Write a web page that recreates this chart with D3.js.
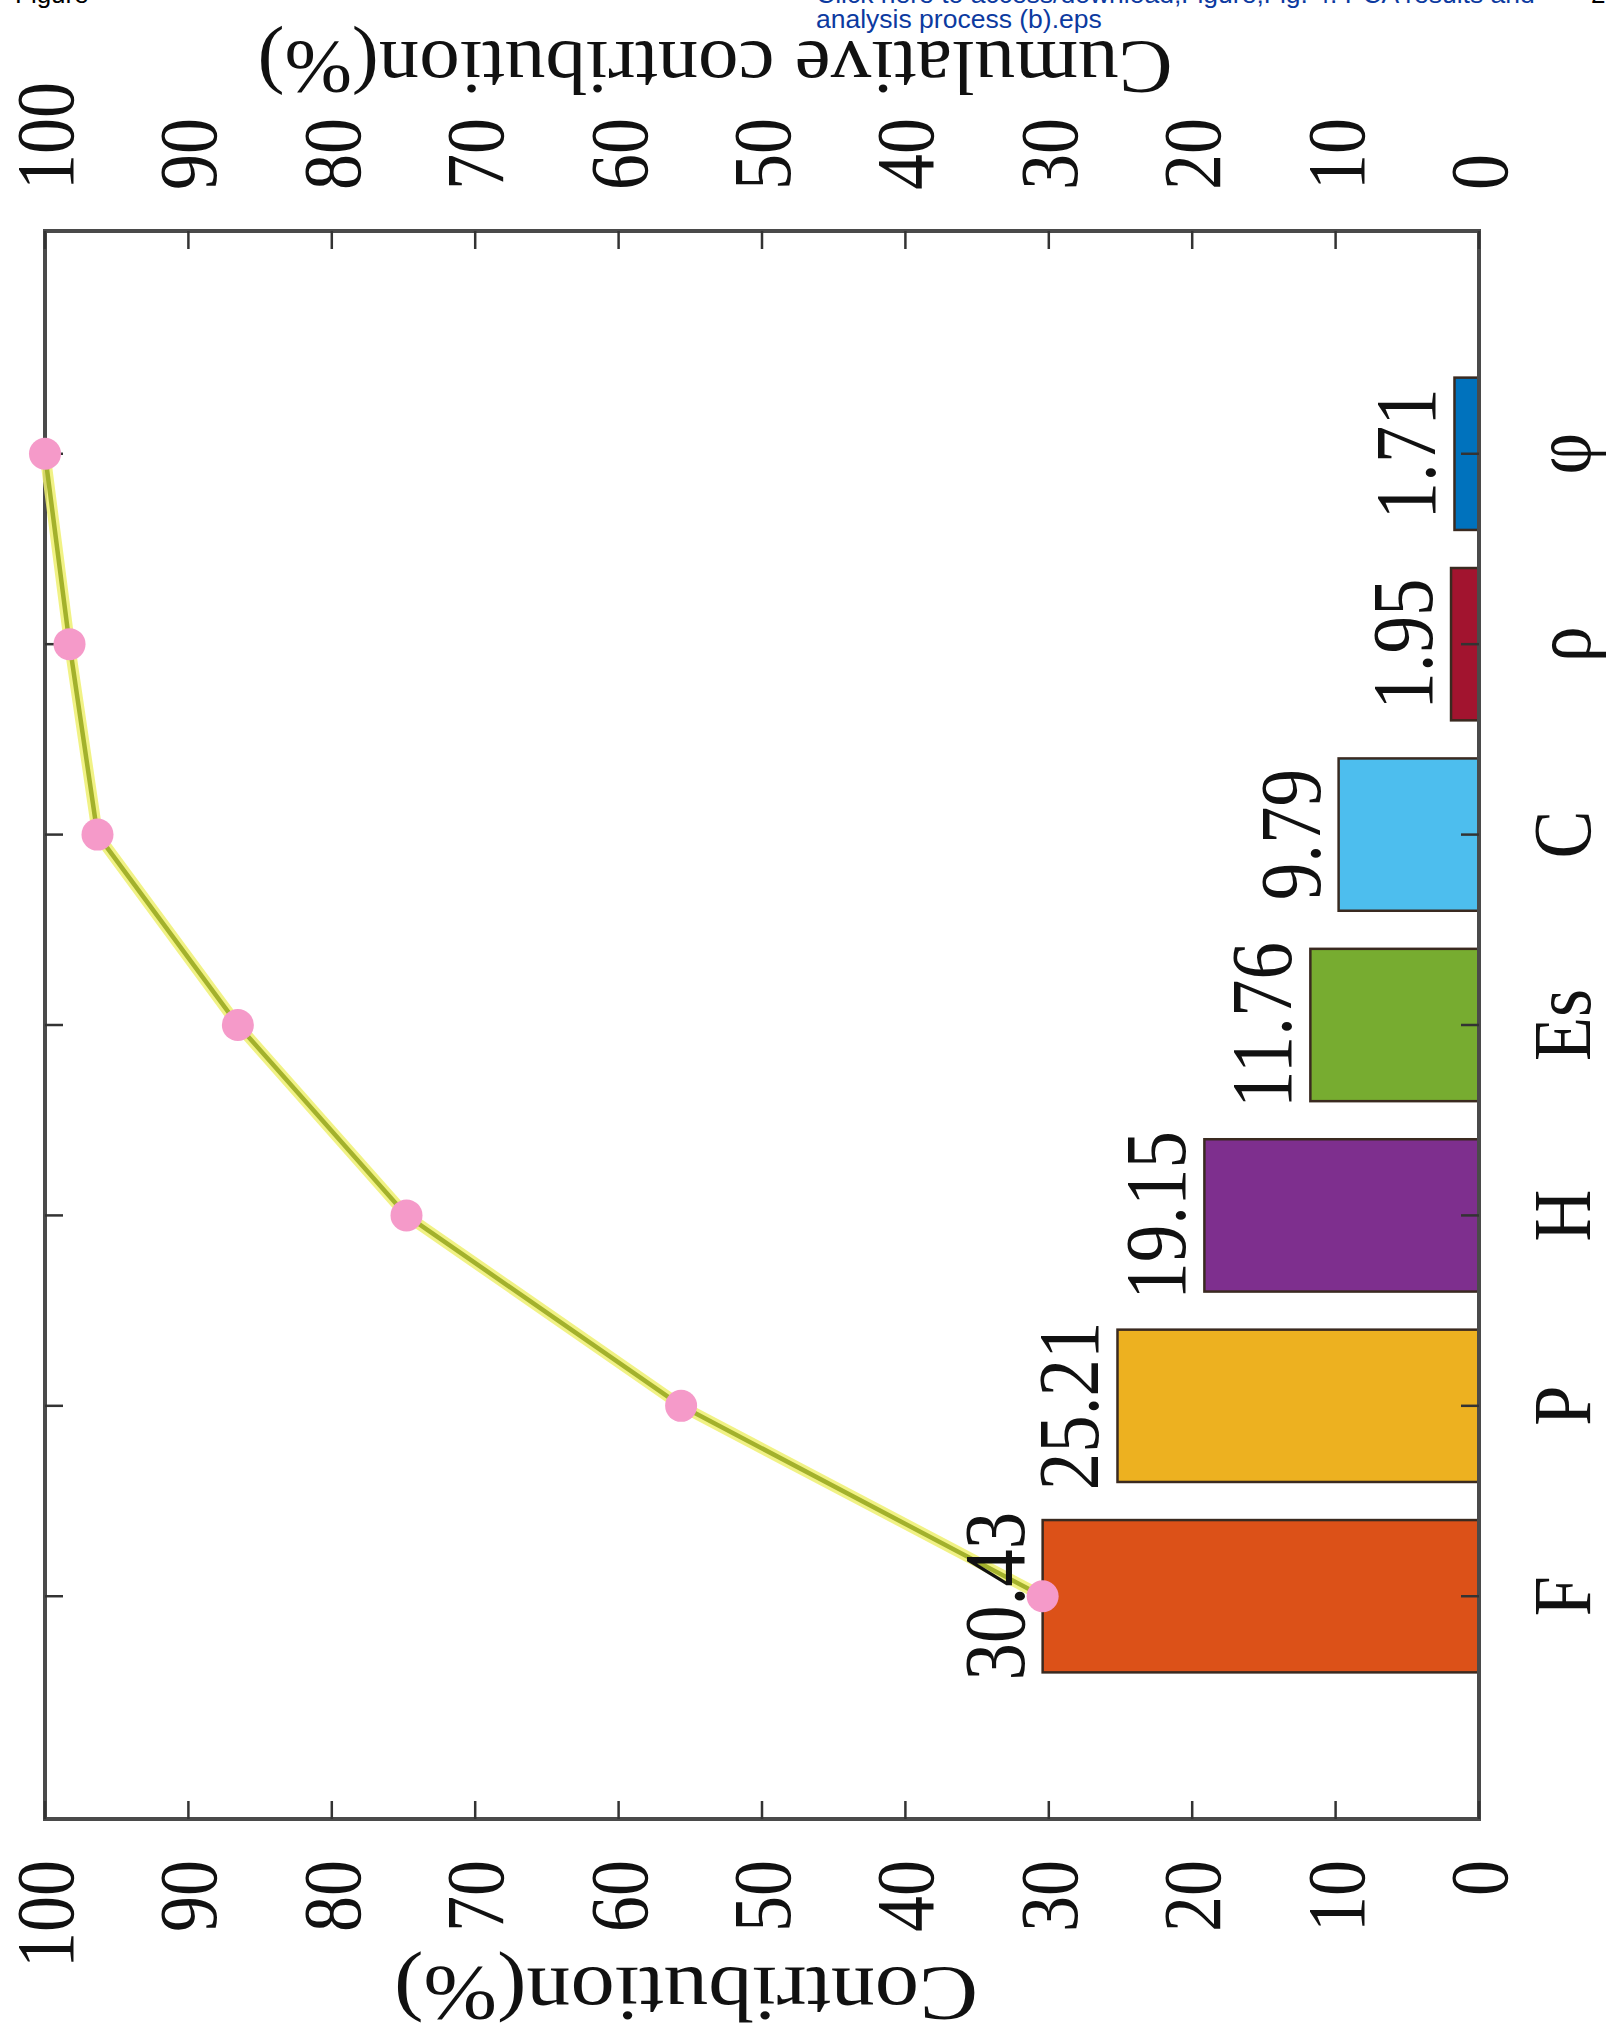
<!DOCTYPE html>
<html>
<head>
<meta charset="utf-8">
<script src="https://cdn.jsdelivr.net/npm/d3@7"></script>
<style>
  html, body { margin: 0; padding: 0; background: #ffffff; }
  svg { display: block; }
</style>
</head>
<body>
<script>
// ---------------- data ----------------
const categories   = ["F", "P", "H", "Es", "C", "ρ", "φ"];
const contribution = [30.43, 25.21, 19.15, 11.76, 9.79, 1.95, 1.71];
const cumulative   = [30.43, 55.64, 74.79, 86.55, 96.34, 98.29, 100];
const barLabels    = ["30.43", "25.21", "19.15", "11.76", "9.79", "1.95", "1.71"];
const barColors    = ["#DC5118", "#EDB120", "#7E2F8E", "#77AC30", "#4DBEEE", "#A2142F", "#0072BD"];
const valueTicks   = [0, 10, 20, 30, 40, 50, 60, 70, 80, 90, 100];
const valueTickLabels = ["0", "10", "20", "30", "40", "50", "60", "70", "80", "90", "100"];
const leftTitle  = "Contribution(%)";
const rightTitle = "Cumulative contribution(%)";

// ---------------- layout ----------------
const W = 1606, H = 2038;
const plot = { left: 45, right: 1479, top: 231, bottom: 1819 };
const serif = "'Liberation Serif', 'Times New Roman', serif";
const sans = "'Liberation Sans', Arial, sans-serif";
const stretch = 1.15;

const svg = d3.select("body").append("svg").attr("width", W).attr("height", H);

// value scale (horizontal in the picture: 0 at right, 100 at left)
const x = d3.scaleLinear().domain([0, 100]).range([plot.right, plot.left]);
// category position scale (vertical: first category at bottom)
const y = d3.scaleLinear().domain([-0.17, 8.17]).range([plot.bottom, plot.top]);

// ---------------- header ----------------
svg.append("text").attr("x", 15).attr("y", 3)
  .attr("font-family", sans).attr("font-size", 26).attr("fill", "#000").text("Figure");
svg.append("text").attr("x", 816).attr("y", 3)
  .attr("font-family", sans).attr("font-size", 26.5).attr("fill", "#0c3aa0")
  .text("Click here to access/download;Figure;Fig. 4. PCA results and");
svg.append("text").attr("x", 816).attr("y", 28)
  .attr("font-family", sans).attr("font-size", 26.5).attr("fill", "#0c3aa0")
  .text("analysis process (b).eps");
svg.append("text").attr("x", 1591).attr("y", 3)
  .attr("font-family", sans).attr("font-size", 26).attr("fill", "#000").text("2");

// ---------------- bars ----------------
const g = svg.append("g");
g.selectAll("rect.bar").data(contribution).enter().append("rect")
  .attr("class", "bar")
  .attr("x", d => x(d))
  .attr("width", d => x(0) - x(d))
  .attr("y", (d, i) => y(i + 1 + 0.4))
  .attr("height", (d, i) => y(i + 1 - 0.4) - y(i + 1 + 0.4))
  .attr("fill", (d, i) => barColors[i])
  .attr("stroke", "#3a2a20").attr("stroke-width", 2.5);

// ---------------- frame & ticks ----------------
g.append("rect")
  .attr("x", plot.left).attr("y", plot.top)
  .attr("width", plot.right - plot.left).attr("height", plot.bottom - plot.top)
  .attr("fill", "none").attr("stroke", "#4a4a4a").attr("stroke-width", 4);

const tickLen = 18;
valueTicks.forEach(v => {
  g.append("line").attr("x1", x(v)).attr("x2", x(v))
    .attr("y1", plot.top).attr("y2", plot.top + tickLen)
    .attr("stroke", "#333").attr("stroke-width", 2.5);
  g.append("line").attr("x1", x(v)).attr("x2", x(v))
    .attr("y1", plot.bottom).attr("y2", plot.bottom - tickLen)
    .attr("stroke", "#333").attr("stroke-width", 2.5);
});
categories.forEach((c, i) => {
  g.append("line").attr("x1", plot.left).attr("x2", plot.left + tickLen)
    .attr("y1", y(i + 1)).attr("y2", y(i + 1))
    .attr("stroke", "#333").attr("stroke-width", 2.5);
  g.append("line").attr("x1", plot.right).attr("x2", plot.right - tickLen)
    .attr("y1", y(i + 1)).attr("y2", y(i + 1))
    .attr("stroke", "#333").attr("stroke-width", 2.5);
});

// ---------------- cumulative line ----------------
const pts = cumulative.map((v, i) => [x(v), y(i + 1)]);
const line = d3.line();
g.append("path").attr("d", line(pts))
  .attr("fill", "none").attr("stroke", "#eef070").attr("stroke-width", 11)
  .attr("stroke-linejoin", "round").attr("opacity", 0.85);
g.append("path").attr("d", line(pts))
  .attr("fill", "none").attr("stroke", "#a3b12c").attr("stroke-width", 4.5)
  .attr("stroke-linejoin", "round");
g.selectAll("circle.pt").data(cumulative).enter().append("circle")
  .attr("class", "pt")
  .attr("cx", d => x(d)).attr("cy", (d, i) => y(i + 1))
  .attr("r", 16).attr("fill", "#f59ac9");

// ---------------- text (rotated) ----------------
function rotText(parent, bx, cy, txt, anchor, size) {
  return parent.append("text")
    .attr("transform", `translate(${bx},${cy}) scale(${stretch},1) rotate(-90)`)
    .attr("text-anchor", anchor)
    .attr("font-family", serif).attr("font-size", size).attr("fill", "#111")
    .text(txt);
}
const tickSize = 72;
const half = 0.338 * tickSize * stretch;
valueTicks.forEach((v, i) => {
  // top axis (cumulative)
  rotText(svg, x(v) + half, 190, valueTickLabels[i], "start", tickSize);
  // bottom axis (contribution)
  rotText(svg, x(v) + half, 1860, valueTickLabels[i], "end", tickSize);
});
categories.forEach((c, i) => {
  rotText(svg, 1590, y(i + 1), c, "middle", 72);
});
contribution.forEach((v, i) => {
  rotText(svg, x(v) - 19, y(i + 1), barLabels[i], "middle", 75);
});

// axis titles (upside down)
svg.append("text")
  .attr("transform", `translate(715,42) rotate(180)`)
  .attr("text-anchor", "middle")
  .attr("font-family", serif).attr("font-size", 76).attr("fill", "#111")
  .attr("textLength", 915).attr("lengthAdjust", "spacingAndGlyphs")
  .text(rightTitle);
svg.append("text")
  .attr("transform", `translate(686,1968) rotate(180)`)
  .attr("text-anchor", "middle")
  .attr("font-family", serif).attr("font-size", 78).attr("fill", "#111")
  .attr("textLength", 584).attr("lengthAdjust", "spacingAndGlyphs")
  .text(leftTitle);
</script>
</body>
</html>
